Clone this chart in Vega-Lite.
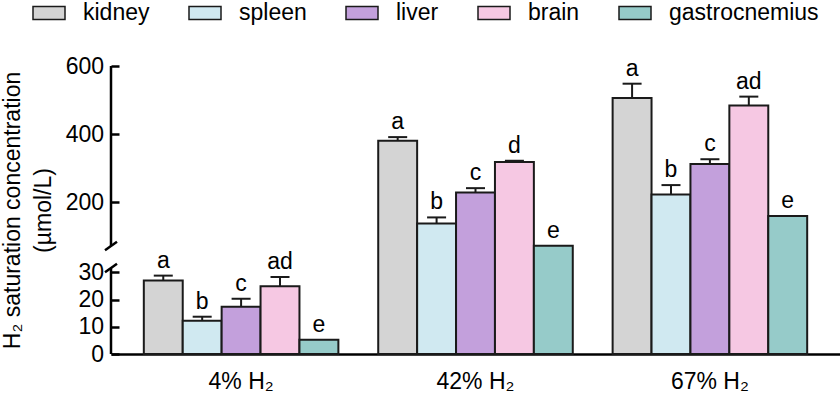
{
  "$schema": "https://vega.github.io/schema/vega-lite/v6.json",
  "width": 729,
  "height": 288,
  "autosize": {"type": "none"},
  "padding": {"left": 111, "top": 66, "right": 0, "bottom": 45},
  "config": {
    "view": {"stroke": null},
    "font": "Liberation Sans",
    "axis": {"labelFont": "Liberation Sans", "titleFont": "Liberation Sans", "labelColor": "black", "titleColor": "black", "grid": false}
  },
  "datasets": {
    "bars": [
      {"group": "4% H₂", "organ": "kidney", "mean": 27.0, "upper": 28.8, "letter": "a"},
      {"group": "4% H₂", "organ": "spleen", "mean": 12.2, "upper": 13.7, "letter": "b"},
      {"group": "4% H₂", "organ": "liver", "mean": 17.4, "upper": 20.3, "letter": "c"},
      {"group": "4% H₂", "organ": "brain", "mean": 24.9, "upper": 28.3, "letter": "ad"},
      {"group": "4% H₂", "organ": "gastrocnemius", "mean": 5.2, "upper": 5.2, "letter": "e"},
      {"group": "42% H₂", "organ": "kidney", "mean": 380, "upper": 391, "letter": "a"},
      {"group": "42% H₂", "organ": "spleen", "mean": 137, "upper": 155, "letter": "b"},
      {"group": "42% H₂", "organ": "liver", "mean": 228, "upper": 241, "letter": "c"},
      {"group": "42% H₂", "organ": "brain", "mean": 318, "upper": 321.5, "letter": "d"},
      {"group": "42% H₂", "organ": "gastrocnemius", "mean": 72, "upper": 72, "letter": "e"},
      {"group": "67% H₂", "organ": "kidney", "mean": 506, "upper": 548, "letter": "a"},
      {"group": "67% H₂", "organ": "spleen", "mean": 222, "upper": 250, "letter": "b"},
      {"group": "67% H₂", "organ": "liver", "mean": 312, "upper": 326, "letter": "c"},
      {"group": "67% H₂", "organ": "brain", "mean": 484, "upper": 510, "letter": "ad"},
      {"group": "67% H₂", "organ": "gastrocnemius", "mean": 159, "upper": 159, "letter": "e"}
    ],
    "one": [{}]
  },
  "layer": [
    {
      "data": {"name": "bars"},
      "mark": {"type": "bar", "stroke": "#1a1a1a", "strokeWidth": 2},
      "encoding": {
        "x": {
          "field": "group", "type": "nominal", "sort": ["4% H₂", "42% H₂", "67% H₂"],
          "scale": {"paddingInner": 0.17, "paddingOuter": 0.14},
          "axis": {"title": null, "labelAngle": 0, "ticks": false, "domain": true, "domainColor": "black", "domainWidth": 2.5, "labelFontSize": 23, "labelPadding": 16}
        },
        "xOffset": {
          "field": "organ", "type": "nominal",
          "sort": ["kidney", "spleen", "liver", "brain", "gastrocnemius"],
          "scale": {"paddingInner": 0, "paddingOuter": 0}
        },
        "y": {
          "field": "mean", "type": "quantitative",
          "scale": {"domain": [0, 31.6, 71, 600], "range": [288, 202, 180, 0], "nice": false, "zero": false},
          "axis": {
            "values": [0, 10, 20, 30, 200, 400, 600],
            "domain": false, "offset": -8,
            "tickSize": 8, "tickWidth": 2.5, "tickColor": "black",
            "labelFontSize": 23, "labelPadding": 7.5,
            "title": ["H₂ saturation concentration", "(µmol/L)"],
            "titleFontSize": 23, "titleFontWeight": "normal", "titleLineHeight": 31, "titlePadding": 10
          }
        },
        "color": {
          "field": "organ", "type": "nominal",
          "sort": ["kidney", "spleen", "liver", "brain", "gastrocnemius"],
          "scale": {"domain": ["kidney", "spleen", "liver", "brain", "gastrocnemius"], "range": ["#d4d4d4", "#d0e9f1", "#c3a0dc", "#f6c8e3", "#96cbc9"]},
          "legend": {
            "title": null, "orient": "none", "direction": "horizontal",
            "legendX": -79, "legendY": -70,
            "symbolType": "M-1,-0.4H1V0.4H-1Z", "symbolSize": 1024,
            "symbolStrokeColor": "#1a1a1a", "symbolStrokeWidth": 1.5, "symbolOpacity": 1,
            "labelFontSize": 23, "labelFont": "Liberation Sans", "labelColor": "black",
            "labelOffset": 17, "columnPadding": 36
          }
        }
      }
    },
    {
      "data": {"name": "bars"},
      "transform": [{"filter": "datum.upper > datum.mean"}],
      "mark": {"type": "rule", "color": "#1a1a1a", "strokeWidth": 2},
      "encoding": {
        "x": {"field": "group", "type": "nominal", "sort": ["4% H₂", "42% H₂", "67% H₂"]},
        "xOffset": {"field": "organ", "type": "nominal", "sort": ["kidney", "spleen", "liver", "brain", "gastrocnemius"]},
        "y": {"field": "mean", "type": "quantitative"},
        "y2": {"field": "upper"}
      }
    },
    {
      "data": {"name": "bars"},
      "transform": [{"filter": "datum.upper > datum.mean"}],
      "mark": {"type": "tick", "color": "#1a1a1a", "thickness": 2, "size": 19, "opacity": 1},
      "encoding": {
        "x": {"field": "group", "type": "nominal", "sort": ["4% H₂", "42% H₂", "67% H₂"]},
        "xOffset": {"field": "organ", "type": "nominal", "sort": ["kidney", "spleen", "liver", "brain", "gastrocnemius"]},
        "y": {"field": "upper", "type": "quantitative"}
      }
    },
    {
      "data": {"name": "bars"},
      "mark": {"type": "text", "fontSize": 23, "baseline": "alphabetic", "dy": -8, "color": "black"},
      "encoding": {
        "x": {"field": "group", "type": "nominal", "sort": ["4% H₂", "42% H₂", "67% H₂"]},
        "xOffset": {"field": "organ", "type": "nominal", "sort": ["kidney", "spleen", "liver", "brain", "gastrocnemius"]},
        "y": {"field": "upper", "type": "quantitative"},
        "text": {"field": "letter"}
      }
    },
    {
      "data": {"name": "one"},
      "mark": {"type": "rule", "color": "black", "strokeWidth": 2.5},
      "encoding": {
        "x": {"value": 0},
        "y": {"datum": 0, "type": "quantitative"},
        "y2": {"datum": 31.6}
      }
    },
    {
      "data": {"name": "one"},
      "mark": {"type": "rule", "color": "black", "strokeWidth": 2.5},
      "encoding": {
        "x": {"value": 0},
        "y": {"datum": 71, "type": "quantitative"},
        "y2": {"datum": 600}
      }
    },
    {
      "data": {"name": "one"},
      "mark": {"type": "point", "shape": "M-1,0.7L1,-0.7", "filled": false, "stroke": "black", "strokeWidth": 2.5, "size": 144, "opacity": 1},
      "encoding": {
        "x": {"value": 0},
        "y": {"datum": 71, "type": "quantitative"}
      }
    },
    {
      "data": {"name": "one"},
      "mark": {"type": "point", "shape": "M-1,0.7L1,-0.7", "filled": false, "stroke": "black", "strokeWidth": 2.5, "size": 144, "opacity": 1},
      "encoding": {
        "x": {"value": 0},
        "y": {"datum": 31.6, "type": "quantitative"}
      }
    }
  ]
}
